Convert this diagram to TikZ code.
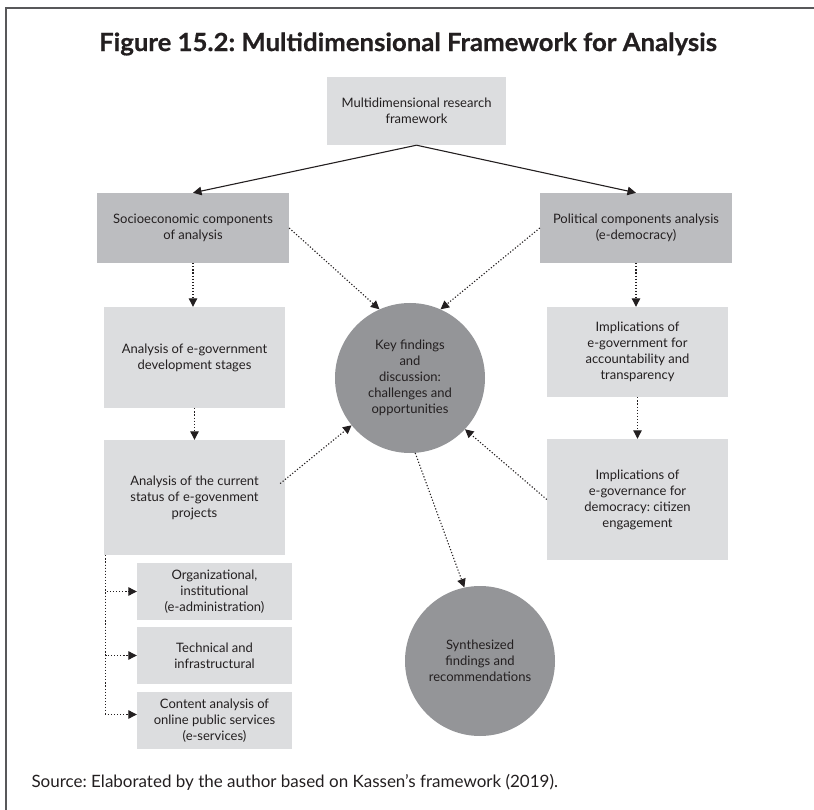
\documentclass[tikz,border=0pt]{standalone}
\usepackage{fontspec}
\setmainfont{Lato}
\newfontfamily\titlefont[FakeStretch=1.03, FakeBold=0.6]{Lato}
\usetikzlibrary{arrows.meta, positioning, calc}
\frenchspacing

\definecolor{darkbox}{HTML}{BCBDC0}
\definecolor{lightbox}{HTML}{DCDDDF}
\definecolor{hubgray}{HTML}{949598}
\definecolor{framegray}{HTML}{58585A}
\definecolor{inkblack}{HTML}{231F20}

\tikzstyle{lightblock} = [rectangle, fill=lightbox, align=center, inner sep=0pt, text=inkblack, font=\fontsize{13}{16}\selectfont]
\tikzstyle{darkblock} = [lightblock, fill=darkbox]
\tikzstyle{hub} = [circle, fill=hubgray, minimum size=150pt, inner sep=0pt, align=center, text=inkblack, font=\fontsize{13}{16}\selectfont]
\tikzstyle{arrow} = [line width=1.1pt, inkblack, -{Triangle[length=8.5pt, width=8.5pt]}]
\tikzstyle{dotarrow} = [arrow, line width=1.1pt, dash pattern=on 1.2pt off 1.9pt]

\begin{document}
\begin{tikzpicture}[x=1pt, y=-1pt]

\useasboundingbox (0,0) rectangle (814,810);
\draw [framegray, line width=1.3pt] (6,810) -- (6,8) -- (814,8);

\node (title) at (408,44) [font=\titlefont\bfseries\fontsize{25}{30}\selectfont, text=inkblack] {Figure 15.2: Multidimensional Framework for Analysis};

% top of the tree
\node (frame) at (416.5,111) [lightblock, minimum width=179pt, minimum height=68pt] {Multidimensional research\\framework};
\node (socio) at (193,228) [darkblock, minimum width=192pt, minimum height=70pt] {Socioeconomic components\\of analysis};
\node (polit) at (636,228) [darkblock, minimum width=192pt, minimum height=70pt] {Political components analysis\\(e-democracy)};

% left column
\node (stages) at (194.5,357.5) [lightblock, minimum width=181pt, minimum height=101pt] {Analysis of e-government\\development stages};
\node (status) at (194.5,497.5) [lightblock, minimum width=181pt, minimum height=115pt] {Analysis of the current\\status of e-govenment\\projects};
\node (orgn) at (214.5,591.5) [lightblock, minimum width=155pt, minimum height=57pt] {Organizational,\\institutional\\(e-administration)};
\node (tech) at (214.5,655.5) [lightblock, minimum width=155pt, minimum height=57pt] {Technical and\\infrastructural};
\node (eserv) at (214.5,720.5) [lightblock, minimum width=155pt, minimum height=57pt] {Content analysis of\\online public services\\(e-services)};

% right column
\node (account) at (637.5,352) [lightblock, minimum width=181pt, minimum height=90pt] {Implications of\\e-government for\\accountability and\\transparency};
\node (citizen) at (637.5,499.5) [lightblock, minimum width=181pt, minimum height=121pt] {Implications of\\e-governance for\\democracy: citizen\\engagement};

% circles
\node (keyfind) at (410,378) [hub] {Key findings\\and\\discussion:\\challenges and\\opportunities};
\node (synth) at (480,661) [hub] {Synthesized\\findings and\\recommendations};

\node (source) at (28,782) [anchor=west, text=inkblack, font=\fontsize{17}{20}\selectfont] {Source: Elaborated by the author based on Kassen’s framework (2019).};

\draw [arrow] (frame.south) -- (socio.north);
\draw [arrow] (frame.south) -- (polit.north);

\draw [dotarrow] (socio.south) -- (socio.south |- stages.north);
\draw [dotarrow] (stages.south) -- (stages.south |- status.north);
\draw [dotarrow] (polit.south) -- (polit.south |- account.north);
\draw [dotarrow] (account.south) -- (citizen.north);

\draw [dotarrow] (socio.east) -- (keyfind.114);
\draw [dotarrow] (polit.west) -- (keyfind.66);
\draw [dotarrow] ([xshift=-5pt, yshift=14pt]status.east) -- (keyfind.219);
\draw [dotarrow] (citizen.west) -- (keyfind.317);
\draw [dotarrow] (keyfind.274) -- (synth.102);

% branches to the sub-boxes
\coordinate (trunk) at ([xshift=2pt]status.south west);
\draw [dotarrow] (trunk) |- (orgn.west);
\draw [dotarrow] (trunk) |- (tech.west);
\draw [dotarrow] (trunk) |- ([yshift=6pt]eserv.west);

\end{tikzpicture}
\end{document}
